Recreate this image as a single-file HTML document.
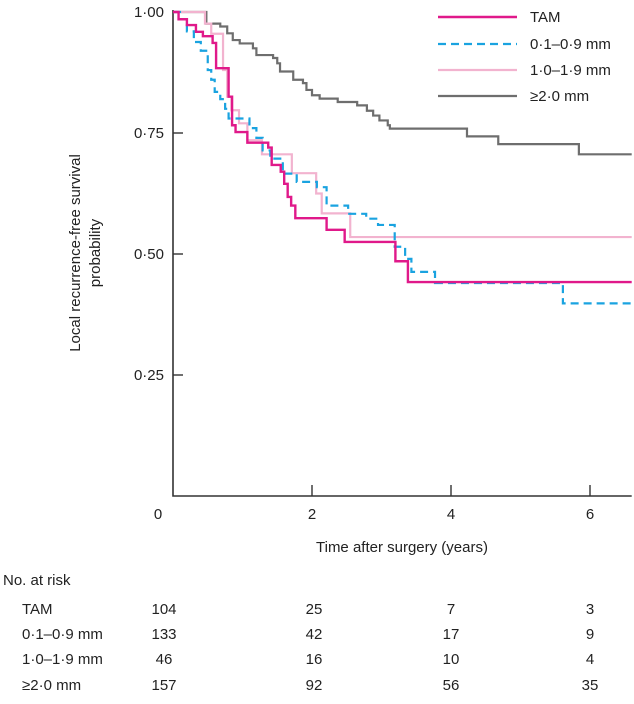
<!DOCTYPE html>
<html><head><meta charset="utf-8"><style>
html,body{margin:0;padding:0;background:#fff;}
svg{display:block;font-family:"Liberation Sans",Arial,sans-serif;}
</style></head><body>
<svg id="chart" width="634" height="704" viewBox="0 0 634 704">
<g id="axes"></g>
<g id="series"></g>
<g id="legend"></g>
<g id="risk"></g>
</svg>
<script>
const xTicks = [0, 2, 4, 6];
const xTickLabels = ["0", "2", "4", "6"];
const yTicks = [0.25, 0.5, 0.75, 1.0];
const yTickLabels = ["0·25", "0·50", "0·75", "1·00"];
const seriesNames = ["TAM", "0·1–0·9 mm", "1·0–1·9 mm", "≥2·0 mm"];
const tamTimes = [0.08,0.2,0.33,0.43,0.57,0.62,0.8,0.85,0.9,1.07,1.37,1.42,1.55,1.6,1.65,1.7,1.76,2.21,2.47,3.2,3.38];
const tamSurv = [0.985,0.973,0.959,0.95,0.936,0.884,0.825,0.766,0.752,0.73,0.72,0.684,0.67,0.645,0.618,0.6,0.574,0.55,0.525,0.485,0.442];
const thinTimes = [0.1,0.2,0.3,0.4,0.5,0.55,0.6,0.68,0.75,0.8,1.1,1.2,1.29,1.4,1.58,1.78,2.07,2.21,2.52,2.78,2.95,3.19,3.34,3.43,3.77,5.61];
const thinSurv = [0.985,0.96,0.938,0.92,0.88,0.86,0.835,0.82,0.8,0.78,0.76,0.74,0.714,0.697,0.666,0.649,0.638,0.6,0.583,0.573,0.56,0.515,0.49,0.463,0.44,0.398];
const midTimes = [0.46,0.55,0.72,0.78,0.84,0.95,1.07,1.28,1.71,2.06,2.14,2.55];
const midSurv = [0.976,0.955,0.88,0.825,0.797,0.77,0.735,0.706,0.667,0.625,0.584,0.535];
const thickTimes = [0.48,0.68,0.78,0.86,0.96,1.15,1.2,1.44,1.5,1.54,1.73,1.87,1.92,2.0,2.11,2.37,2.65,2.79,2.88,2.97,3.09,3.12,4.23,4.68,5.84];
const thickSurv = [0.976,0.97,0.956,0.942,0.935,0.925,0.911,0.905,0.894,0.877,0.86,0.853,0.839,0.828,0.821,0.814,0.807,0.796,0.786,0.776,0.766,0.759,0.743,0.727,0.706];
const riskTimes = [0, 2, 4, 6];
const riskTAM = [104, 25, 7, 3];
const riskThin = [133, 42, 17, 9];
const riskMid = [46, 16, 10, 4];
const riskThick = [157, 92, 56, 35];

const NS = "http://www.w3.org/2000/svg";
const X0 = 173, XPER = 69.5, Y0 = 496, YPER = 484, TMAX = 6.6;
function xs(t){ return X0 + t * XPER; }
function ys(s){ return Y0 - s * YPER; }
function mk(tag, attrs, parent){
  const e = document.createElementNS(NS, tag);
  for (const k in attrs) e.setAttribute(k, attrs[k]);
  parent.appendChild(e);
  return e;
}
const axes = document.getElementById('axes');
let el = mk('path', {d:`M${X0} ${ys(1)-2} V${Y0} H${xs(TMAX)}`, fill:'none', stroke:'#333', 'stroke-width':1.6}, axes);


yTicks.forEach((v, i) => {
  const t = mk('line', {x1:X0, x2:X0+10, y1:ys(v), y2:ys(v), stroke:'#333', 'stroke-width':1.4}, axes);
  
  
  const l = mk('text', {x:164, y:ys(v)+5, 'text-anchor':'end', 'font-size':15, fill:'#222'}, axes);
  l.textContent = yTickLabels[i];
  
  
});
xTicks.forEach((v, i) => {
  if (v > 0) {
    const t = mk('line', {x1:xs(v), x2:xs(v), y1:Y0, y2:Y0-11, stroke:'#333', 'stroke-width':1.4}, axes);
    
    
  }
  const l = mk('text', {x: v === 0 ? 158 : xs(v), y:519, 'text-anchor':'middle', 'font-size':15, fill:'#222'}, axes);
  l.textContent = xTickLabels[i];
  
  
});
el = mk('text', {x:402, y:552, 'text-anchor':'middle', 'font-size':15, fill:'#222'}, axes);
el.textContent = 'Time after surgery (years)';


el = mk('text', {transform:'translate(80,253) rotate(-90)', 'text-anchor':'middle', 'font-size':15, fill:'#222'}, axes);
el.textContent = 'Local recurrence-free survival';


el = mk('text', {transform:'translate(100,253) rotate(-90)', 'text-anchor':'middle', 'font-size':15, fill:'#222'}, axes);
el.textContent = 'probability';



const styles = [
  {c:'#e0198a', w:2.4, dash:null, times:tamTimes, surv:tamSurv, name:'curve-tam'},
  {c:'#1aa3e0', w:2.2, dash:'8,5', times:thinTimes, surv:thinSurv, name:'curve-0-1-0-9mm'},
  {c:'#f2b3cf', w:2.2, dash:null, times:midTimes, surv:midSurv, name:'curve-1-0-1-9mm'},
  {c:'#6e6e6e', w:2.2, dash:null, times:thickTimes, surv:thickSurv, name:'curve-2-0mm'}
];
const series = document.getElementById('series');
[3,2,1,0].forEach(i => {
  const s = styles[i];
  let d = `M${xs(0)} ${ys(1)}`;
  s.times.forEach((t, j) => { d += ` H${xs(t)} V${ys(s.surv[j])}`; });
  d += ` H${xs(TMAX)}`;
  const p = mk('path', {d, fill:'none', stroke:s.c, 'stroke-width':s.w}, series);
  if (s.dash) p.setAttribute('stroke-dasharray', s.dash);
  
  
});

const legend = document.getElementById('legend');
const legY = [17, 44, 70, 96];
styles.forEach((s, i) => {
  const ln = mk('line', {x1:438, x2:517, y1:legY[i], y2:legY[i], stroke:s.c, 'stroke-width':s.w}, legend);
  if (s.dash) ln.setAttribute('stroke-dasharray', s.dash);
  
  
  const tx = mk('text', {x:530, y:legY[i]+5, 'font-size':15, fill:'#222'}, legend);
  tx.textContent = seriesNames[i];
  
  
});

const risk = document.getElementById('risk');
el = mk('text', {x:3, y:585, 'font-size':15, fill:'#222'}, risk);
el.textContent = 'No. at risk';


const rows = [riskTAM, riskThin, riskMid, riskThick];
const rowY = [614, 639, 664, 690];
const colX = [164, 314, 451, 590];
rows.forEach((r, i) => {
  const lb = mk('text', {x:22, y:rowY[i], 'font-size':15, fill:'#222'}, risk);
  lb.textContent = seriesNames[i];
  
  
  riskTimes.forEach((t, j) => {
    const n = mk('text', {x:colX[j], y:rowY[i], 'text-anchor':'middle', 'font-size':15, fill:'#222'}, risk);
    n.textContent = r[j];
    
    
  });
});
</script>
</body></html>
